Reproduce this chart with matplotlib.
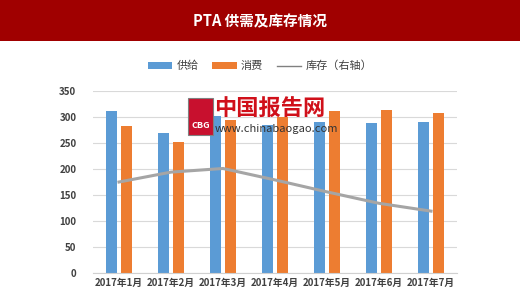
import matplotlib
matplotlib.use("Agg")
import matplotlib.pyplot as plt
from matplotlib.patches import Rectangle
from matplotlib.lines import Line2D
import numpy as np

plt.rcParams['font.family'] = ['Noto Sans CJK SC', 'DejaVu Sans']

# data
months = ["2017年1月", "2017年2月", "2017年3月", "2017年4月",
          "2017年5月", "2017年6月", "2017年7月"]
supply = [312, 270, 302, 285, 290, 288, 291]
consume = [283, 252, 294, 300, 312, 314, 307]
stock = [175, 194, 201, 179, 156, 134, 119]

fig = plt.figure(figsize=(5.2, 3.04), dpi=100)

# header band
fig.patches.append(Rectangle((0, 1 - 41 / 304), 1, 41 / 304, transform=fig.transFigure,
                             facecolor="#A00000", edgecolor="none", zorder=0))
fig.text(0.5, 1 - 21 / 304, "PTA 供需及库存情况", color="white", fontsize=10.5,
         fontweight="bold", ha="center", va="center")

ax = fig.add_axes([93 / 520, 1 - 273 / 304, 364 / 520, 182 / 304])
x = np.arange(len(months))
w = 0.21
b1 = ax.bar(x - 0.145, supply, w, color="#5B9BD5", zorder=2, label="供给")
b2 = ax.bar(x + 0.145, consume, w, color="#ED7D31", zorder=2, label="消费")

ax.set_xlim(-0.5, len(months) - 0.5)
ax.set_ylim(0, 350)
ax.set_yticks(range(0, 351, 50))
ax.yaxis.grid(True, color="#D9D9D9", linewidth=0.8, zorder=0)
ax.set_axisbelow(True)
for s in ["top", "right", "left"]:
    ax.spines[s].set_visible(False)
ax.spines["bottom"].set_color("#D0D0D0")
ax.tick_params(axis="both", length=0, colors="#404040", labelsize=7)
ax.tick_params(axis="y", pad=12)
ax.set_xticks(x)
ax.set_xticklabels(months, fontsize=7, fontweight="bold")
for t in ax.get_yticklabels():
    t.set_fontweight("bold")

ax2 = ax.twinx()
ax2.plot(x, stock, color="#A5A5A5", linewidth=2.2, zorder=3)
ax2.set_ylim(0, 350)
ax2.set_yticks([])
for s in ax2.spines.values():
    s.set_visible(False)

ln = Line2D([], [], color="#808080", linewidth=1.0, label="库存（右轴）")
fig.legend(handles=[b1, b2, ln], loc="center", bbox_to_anchor=(0.5, 1 - 66 / 304),
           ncol=3, frameon=False, fontsize=8, handlelength=2.2, handleheight=0.5,
           columnspacing=1.2, handletextpad=0.4, labelcolor="#404040")

# watermark
fig.patches.append(Rectangle((188 / 520, 1 - 135 / 304), 25 / 520, 37 / 304,
                             transform=fig.transFigure, facecolor="#C8102E",
                             edgecolor="#808080", linewidth=0.8, zorder=5))
fig.text(200.5 / 520, 1 - 126 / 304, "CBG", color="white", fontsize=6.5,
         fontweight="bold", ha="center", va="center", zorder=6)
fig.text(214 / 520, 1 - 109 / 304, "中国报告网", color="#D0101A", fontsize=16,
         fontweight="bold", ha="left", va="center", zorder=6)
fig.text(215 / 520, 1 - 129 / 304, "www.chinabaogao.com", color="#333333", fontsize=8,
         ha="left", va="center", zorder=6)

fig.savefig("out.png", dpi=100)
